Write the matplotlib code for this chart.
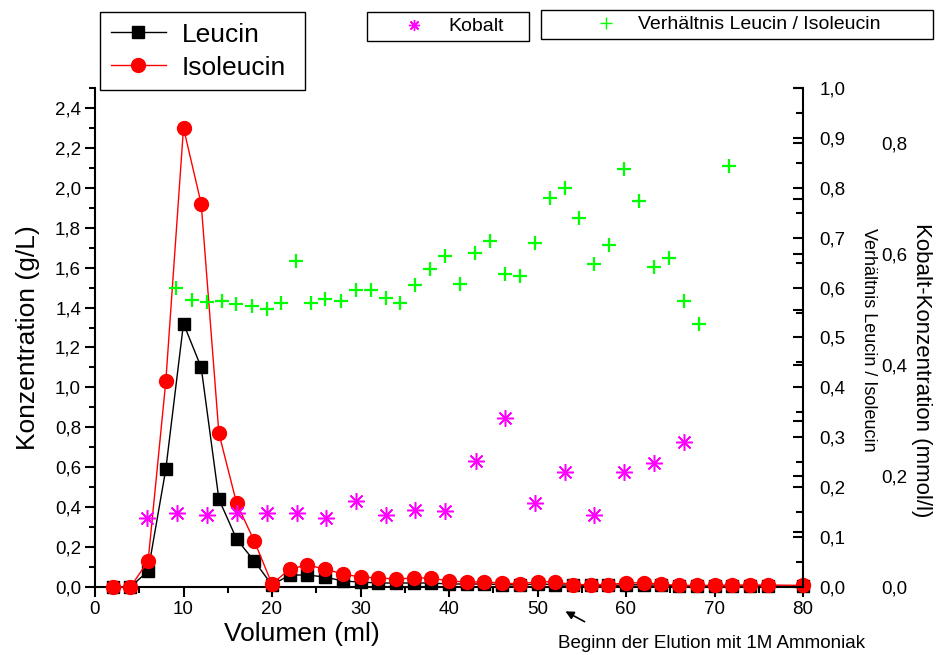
import matplotlib
matplotlib.use("Agg")
import matplotlib.pyplot as plt
import numpy as np
from matplotlib.lines import Line2D
from matplotlib.ticker import FuncFormatter, MultipleLocator

plt.rcParams['font.family'] = ['Liberation Sans', 'DejaVu Sans']

# Elutionsprofil: Leucin / Isoleucin (g/L)
volumen = [2, 4, 6, 8, 10, 12, 14, 16, 18, 20, 22, 24, 26, 28, 30, 32, 34, 36, 38, 40,
           42, 44, 46, 48, 50, 52, 54, 56, 58, 60, 62, 64, 66, 68, 70, 72, 74, 76, 80]
leucin = [0.0, 0.0, 0.08, 0.59, 1.32, 1.10, 0.44, 0.24, 0.13, 0.01, 0.06, 0.06, 0.05,
          0.03, 0.025, 0.02, 0.02, 0.02, 0.02, 0.015, 0.015, 0.015, 0.012, 0.01, 0.015,
          0.012, 0.008, 0.008, 0.008, 0.01, 0.012, 0.008, 0.005, 0.005, 0.005, 0.005,
          0.005, 0.005, 0.005]
isoleucin = [0.0, 0.0, 0.13, 1.03, 2.30, 1.92, 0.77, 0.42, 0.23, 0.015, 0.09, 0.11, 0.09,
             0.065, 0.05, 0.045, 0.04, 0.045, 0.045, 0.03, 0.025, 0.025, 0.02, 0.015,
             0.027, 0.025, 0.012, 0.012, 0.012, 0.02, 0.022, 0.014, 0.008, 0.008, 0.008,
             0.01, 0.01, 0.01, 0.008]

# Kobalt (mmol/l)
vol_kobalt = [5.9, 9.3, 12.6, 16.0, 19.4, 22.8, 26.1, 29.5, 32.9, 36.2, 39.6, 43.0, 46.3,
              49.7, 53.1, 56.4, 59.8, 63.2, 66.6]
kobalt = [0.125, 0.134, 0.13, 0.134, 0.133, 0.134, 0.125, 0.155, 0.13, 0.139, 0.137,
          0.227, 0.305, 0.151, 0.207, 0.13, 0.207, 0.224, 0.262]

# Verhältnis Leucin / Isoleucin
vol_ratio = [9.2, 11.0, 12.6, 14.3, 15.9, 17.7, 19.4, 21.0, 22.7, 24.4, 26.0, 27.8, 29.5,
             31.2, 32.9, 34.5, 36.2, 37.9, 39.5, 41.2, 42.9, 44.6, 46.3, 48.0, 49.7, 51.4,
             53.1, 54.7, 56.4, 58.1, 59.8, 61.5, 63.2, 64.9, 66.6, 68.3, 71.6]
ratio = [0.599, 0.575, 0.572, 0.574, 0.567, 0.564, 0.558, 0.57, 0.654, 0.57, 0.577, 0.574,
         0.595, 0.595, 0.579, 0.569, 0.605, 0.637, 0.663, 0.607, 0.669, 0.693, 0.627, 0.623,
         0.689, 0.779, 0.799, 0.739, 0.647, 0.685, 0.838, 0.774, 0.641, 0.659, 0.574, 0.528,
         0.844]

W, H = 937, 655
fig = plt.figure(figsize=(W / 100, H / 100), dpi=100)
ax = fig.add_axes([95 / W, 1 - 587 / H, (803 - 95) / W, (587 - 88) / H])

komma = FuncFormatter(lambda v, p: f'{v:.1f}'.replace('.', ','))

ax.plot(volumen, leucin, color='black', lw=1, marker='s', ms=8, clip_on=False, zorder=3)
ax.plot(volumen, isoleucin, color='red', lw=1, marker='o', ms=10, clip_on=False, zorder=4)
ax.set_xlim(0, 80)
ax.set_ylim(0, 2.5)
ax.set_yticks(np.arange(0, 2.41, 0.2))
ax.yaxis.set_minor_locator(MultipleLocator(0.1))
ax.yaxis.set_major_formatter(komma)
ax.xaxis.set_major_locator(MultipleLocator(10))
ax.xaxis.set_minor_locator(MultipleLocator(5))
ax.tick_params(which='both', direction='out', width=1.5, labelsize=13.5)
ax.tick_params(which='major', length=7, pad=3)
ax.tick_params(which='minor', length=4.5)
ax.spines['top'].set_visible(False)
ax.spines['right'].set_visible(False)
for s in ['left', 'bottom']:
    ax.spines[s].set_linewidth(1.5)
ax.set_ylabel('Konzentration (g/L)', fontsize=19)
ax.yaxis.set_label_coords(-0.077, 0.5)
ax.set_xlabel('Volumen (ml)', fontsize=19)
ax.xaxis.set_label_coords(0.292, -0.07)

# Verhältnis-Achse rechts
ax2 = ax.twinx()
ax2.plot(vol_ratio, ratio, ls='none', marker='+', ms=10, mew=1.6, color='#00ff00', clip_on=False)
ax2.set_ylim(0, 1.0)
ax2.yaxis.set_major_locator(MultipleLocator(0.1))
ax2.yaxis.set_minor_locator(MultipleLocator(0.05))
ax2.yaxis.set_major_formatter(komma)
ax2.tick_params(which='both', direction='in', width=1.5, labelsize=13.5)
ax2.tick_params(which='major', length=7, pad=12)
ax2.tick_params(which='minor', length=5)
ax2.spines['top'].set_visible(False)
ax2.spines['left'].set_visible(False)
ax2.spines['bottom'].set_visible(False)
ax2.spines['right'].set_linewidth(1.5)
ax2.set_ylabel('Verhältnis Leucin / Isoleucin', fontsize=13, rotation=270,
               ha='center', va='center')
ax2.yaxis.set_label_coords(1.092, 0.495)

# Kobalt-Achse, Beschriftung weiter außen
ax3 = ax.twinx()
ax3.plot(vol_kobalt, kobalt, ls='none', marker=(8, 2, 0), ms=12, mew=1.1, color='#ff00ff', clip_on=False)
ax3.set_ylim(0, 0.9)
ax3.set_yticks(np.arange(0, 0.81, 0.2))
ax3.yaxis.set_minor_locator(MultipleLocator(0.1))
ax3.yaxis.set_major_formatter(komma)
ax3.tick_params(which='both', direction='in', width=1.5, length=7, labelsize=13.5)
ax3.tick_params(which='major', pad=56)
for s in ax3.spines.values():
    s.set_visible(False)
ax3.set_ylabel('Kobalt-Konzentration (mmol/l)', fontsize=16, rotation=270,
               ha='center', va='center')
ax3.yaxis.set_label_coords(1.168, 0.435)

# Legenden
def box(x0, x1, y0, y1):
    return (x0 / W, 1 - y1 / H, (x1 - x0) / W, (y1 - y0) / H)

h_leu = Line2D([], [], color='black', lw=1, marker='s', ms=8)
h_iso = Line2D([], [], color='red', lw=1, marker='o', ms=10)
leg1 = fig.legend([h_leu, h_iso], ['Leucin', 'Isoleucin'], loc='upper left',
                  bbox_to_anchor=box(100, 305, 12, 95), mode='expand', borderaxespad=0,
                  fontsize=19, borderpad=0.4, handlelength=2.1, handletextpad=0.6,
                  labelspacing=0.34, fancybox=False, edgecolor='black', framealpha=1)

h_kob = Line2D([], [], ls='none', marker=(8, 2, 0), ms=8, mew=1, color='#ff00ff')
leg2 = fig.legend([h_kob], ['Kobalt'], loc='upper left',
                  bbox_to_anchor=box(367, 529, 12, 45), mode='expand', borderaxespad=0,
                  fontsize=14, borderpad=0.3, handlelength=4.2, handletextpad=-0.3,
                  fancybox=False, edgecolor='black', framealpha=1)

h_rat = Line2D([], [], ls='none', marker='+', ms=8, mew=1, color='#00ff00')
leg3 = fig.legend([h_rat], ['Verhältnis Leucin / Isoleucin'], loc='upper left',
                  bbox_to_anchor=box(541, 933, 10, 42), mode='expand', borderaxespad=0,
                  fontsize=14, borderpad=0.3, handlelength=6.1, handletextpad=-1.4,
                  fancybox=False, edgecolor='black', framealpha=1)
for leg in (leg1, leg2, leg3):
    leg.get_frame().set_linewidth(1.0)

# Hinweis auf Elutionsbeginn
fig.text(558 / W, 1 - 643 / H, 'Beginn der Elution mit 1M Ammoniak', fontsize=13.5,
         ha='left', va='center')
ax.annotate('', xy=(563, H - 610), xycoords='figure pixels',
            xytext=(587, H - 623), textcoords='figure pixels',
            arrowprops=dict(arrowstyle='-|>', color='black', lw=1.2, mutation_scale=12))

fig.savefig('out.png', dpi=100)
